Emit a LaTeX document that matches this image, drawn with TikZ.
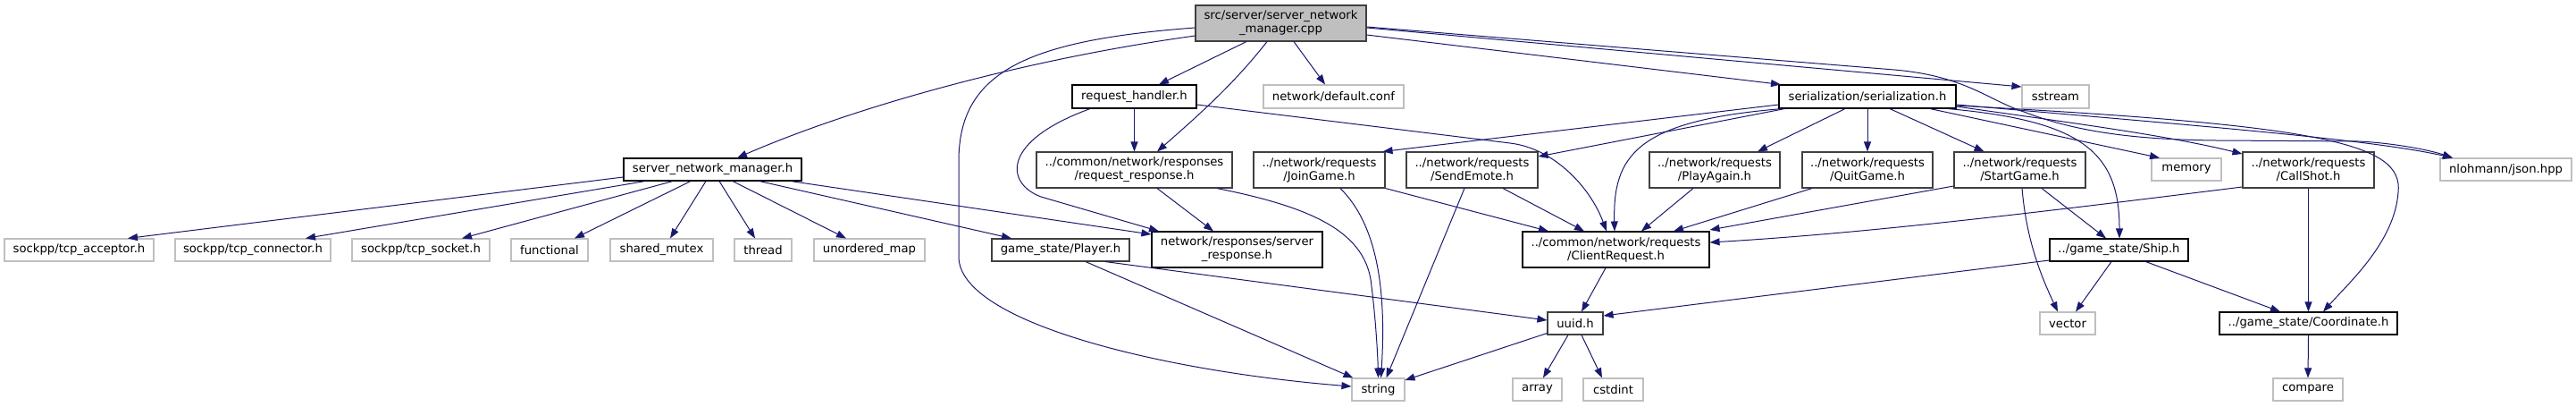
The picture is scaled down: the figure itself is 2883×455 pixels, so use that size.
\documentclass[tikz,border=0pt]{standalone}
\usepackage{fontspec}
\setmainfont{DejaVu Sans}
\usetikzlibrary{arrows.meta}
\definecolor{edgeblue}{HTML}{191970}
\definecolor{grey75}{HTML}{BFBFBF}
\definecolor{grey25}{HTML}{404040}
\begin{document}
\begin{tikzpicture}[x=1pt,y=-1pt,
  box/.style={rectangle, inner sep=0pt, align=center, line width=1.1pt,
    font=\fontsize{13.2}{15}\selectfont, text=black},
  docb/.style={box, draw=black},
  docg/.style={box, draw=grey25},
  ext/.style={box, draw=grey75},
  mainbox/.style={box, draw=grey25, fill=grey75},
  sz/.style 2 args={minimum width=#1pt, minimum height=#2pt},
  edge/.style={draw=edgeblue, line width=1pt, -{Triangle[length=11pt,width=8pt]}}]
\useasboundingbox[fill=white] (0,0) rectangle (2883,455);

% nodes
\node[mainbox, sz={191}{40}] (main) at (1433.5,26) {src/server/server\_network\\\_manager.cpp};
\node[docb, sz={199}{25}] (snm) at (797.5,189.5) {server\_network\_manager.h};
\node[ext, sz={167}{25}] (acc) at (88.5,279.5) {sockpp/tcp\_acceptor.h};
\node[ext, sz={174}{25}] (con) at (283,279.5) {sockpp/tcp\_connector.h};
\node[ext, sz={154}{25}] (sock) at (471,279.5) {sockpp/tcp\_socket.h};
\node[ext, sz={86}{25}] (func) at (615,279.5) {functional};
\node[ext, sz={115}{25}] (smut) at (740.5,279.5) {shared\_mutex};
\node[ext, sz={64}{25}] (thr) at (854,279.5) {thread};
\node[ext, sz={124}{25}] (umap) at (973,279.5) {unordered\_map};
\node[docb, sz={139}{26}] (rh) at (1269.5,108) {request\_handler.h};
\node[docg, sz={219}{40}] (rr) at (1269.5,190) {../common/network/responses\\/request\_response.h};
\node[docg, sz={147}{40}] (join) at (1476.5,190) {../network/requests\\/JoinGame.h};
\node[ext, sz={157}{26}] (conf) at (1492.5,108) {network/default.conf};
\node[docg, sz={154}{25}] (player) at (1187,279.5) {game\_state/Player.h};
\node[docb, sz={191}{40}] (sresp) at (1384.5,279) {network/responses/server\\\_response.h};
\node[docg, sz={147}{40}] (send) at (1647.5,190) {../network/requests\\/SendEmote.h};
\node[docb, sz={209}{40}] (creq) at (1808.5,279) {../common/network/requests\\/ClientRequest.h};
\node[docg, sz={62}{25}] (uuid) at (1763,361.5) {uuid.h};
\node[ext, sz={59}{25}] (string) at (1542.5,435.5) {string};
\node[ext, sz={55}{25}] (array) at (1720.5,435.5) {array};
\node[ext, sz={67}{25}] (cstdint) at (1805.5,435.5) {cstdint};
\node[docg, sz={146}{40}] (play) at (1919,190) {../network/requests\\/PlayAgain.h};
\node[docb, sz={198}{26}] (ser) at (2090,108) {serialization/serialization.h};
\node[ext, sz={75}{26}] (sstream) at (2300.5,108) {sstream};
\node[docg, sz={146}{40}] (quit) at (2090,190) {../network/requests\\/QuitGame.h};
\node[docg, sz={147}{40}] (start) at (2260.5,190) {../network/requests\\/StartGame.h};
\node[docb, sz={155}{25}] (ship) at (2371.5,279.5) {../game\_state/Ship.h};
\node[ext, sz={62}{25}] (vector) at (2314,361.5) {vector};
\node[ext, sz={78}{25}] (memory) at (2447,189.5) {memory};
\node[docg, sz={147}{40}] (call) at (2583.5,190) {../network/requests\\/CallShot.h};
\node[ext, sz={147}{25}] (json) at (2804.5,189.5) {nlohmann/json.hpp};
\node[docb, sz={199}{25}] (coord) at (2583.5,361.5) {../game\_state/Coordinate.h};
\node[ext, sz={78}{25}] (compare) at (2583,435.5) {compare};

% edges from main
\draw[edge] ([yshift=-14pt]main.west) .. controls (1150,66) and (960,118) .. ([xshift=27.5pt]snm.north);
\draw[edge] ([yshift=-5pt]main.west) .. controls (1150,45) and (1073,80) .. (1073,180) -- (1073,287) .. controls (1073,360) and (1300,415) .. ([yshift=3.5pt]string.west);
\draw[edge] ([xshift=-38.5pt]main.south) -- ([xshift=27.5pt]rh.north);
\draw[edge] ([xshift=-15.5pt]main.south) .. controls (1380,95) and (1340,130) .. ([xshift=25.5pt]rr.north);
\draw[edge] ([xshift=14.5pt]main.south) -- ([xshift=-9.5pt]conf.north);
\draw[edge] ([yshift=-13pt]main.east) -- ([xshift=-97pt]ser.north);
\draw[edge] ([yshift=-5pt]main.east) -- ([yshift=11pt]sstream.west);
\draw[edge] ([yshift=-4pt]main.east) -- (2120,78) .. controls (2200,85) and (2225,112) .. (2265,125) .. controls (2330,150) and (2400,156) .. (2480,157) -- (2640,158) .. controls (2680,160) and (2720,168) .. ([xshift=-59.5pt]json.north);

% serialization.h
\draw[edge] ([yshift=-9pt]ser.west) -- ([xshift=-3pt]join.north east);
\draw[edge] ([xshift=7pt]ser.south west) -- ([yshift=15pt]send.east);
\draw[edge] ([xshift=4pt]ser.south west) .. controls (1830,135) and (1805,175) .. ([xshift=-1.5pt]creq.north);
\draw[edge] ([xshift=-25pt]ser.south) -- ([xshift=48pt]play.north);
\draw[edge] (ser.south) -- (quit.north);
\draw[edge] ([xshift=25pt]ser.south) -- ([xshift=-40pt]start.north);
\draw[edge] ([xshift=70pt]ser.south) -- ([xshift=-30pt]memory.north);
\draw[edge] ([yshift=-11pt]ser.east) .. controls (2300,135) and (2420,150) .. ([yshift=18pt]call.west);
\draw[edge] ([yshift=-10pt]ser.east) .. controls (2600,140) and (2690,160) .. (2684,215) .. controls (2680,270) and (2630,315) .. ([xshift=16.5pt]coord.north);
\draw[edge] ([yshift=-9pt]ser.east) .. controls (2450,140) and (2650,155) .. ([xshift=-59.5pt]json.north);
\draw[edge] ([xshift=90pt]ser.south) .. controls (2330,135) and (2372,170) .. ([xshift=0.5pt]ship.north);

% request_handler.h
\draw[edge] (rh.south) -- (rr.north);
\draw[edge] ([xshift=-49.5pt]rh.south) .. controls (1120,158) and (1125,205) .. (1165,220) -- ([xshift=-87.5pt]sresp.north);
\draw[edge] ([yshift=-9pt]rh.east) -- (1690,160) .. controls (1740,166) and (1780,210) .. ([xshift=-10.5pt]creq.north);

% request_response.h
\draw[edge] ([xshift=25.5pt]rr.south) -- ([xshift=-26.5pt]sresp.north);
\draw[edge] ([xshift=92.5pt]rr.south) .. controls (1470,232) and (1530,260) .. (1535,320) .. controls (1540,360) and (1542,400) .. (string.north);

% server_network_manager.h
\draw[edge] ([yshift=-8.5pt]snm.west) -- ([xshift=54.5pt]acc.north);
\draw[edge] ([xshift=-75.5pt]snm.south) -- ([xshift=59pt]con.north);
\draw[edge] ([xshift=-44.5pt]snm.south) -- ([xshift=46pt]sock.north);
\draw[edge] ([xshift=-24.5pt]snm.south) -- ([xshift=28pt]func.north);
\draw[edge] ([xshift=-7.5pt]snm.south) -- ([xshift=9.5pt]smut.north);
\draw[edge] ([xshift=7.5pt]snm.south) -- ([xshift=-9pt]thr.north);
\draw[edge] ([xshift=22.5pt]snm.south) -- ([xshift=-26pt]umap.north);
\draw[edge] ([xshift=52.5pt]snm.south) -- ([xshift=-55pt]player.north);
\draw[edge] ([xshift=87.5pt]snm.south) -- ([yshift=17pt]sresp.west);

% Player.h
\draw[edge] ([xshift=50pt]player.south) -- ([yshift=3.5pt]uuid.west);
\draw[edge] ([xshift=28pt]player.south) -- ([xshift=2pt]string.north west);

% requests
\draw[edge] ([xshift=23.5pt]join.south) .. controls (1540,250) and (1552,320) .. ([xshift=3pt]string.north);
\draw[edge] (join.south east) -- ([xshift=-75.5pt]creq.north);
\draw[edge] ([xshift=-8.5pt]send.south) -- ([xshift=9pt]string.north);
\draw[edge] ([xshift=34.5pt]send.south) -- ([xshift=-35.5pt]creq.north);
\draw[edge] ([xshift=-24pt]play.south) -- ([xshift=28.5pt]creq.north);
\draw[edge] ([xshift=-62pt]quit.south) -- ([xshift=64.5pt]creq.north);
\draw[edge] ([yshift=-18pt]start.west) -- ([yshift=22pt]creq.east);
\draw[edge] ([xshift=24.5pt]start.south) -- ([xshift=-14.5pt]ship.north);
\draw[edge] ([xshift=2.5pt]start.south) .. controls (2268,270) and (2285,310) .. ([xshift=-11pt]vector.north);
\draw[edge] ([yshift=-19pt]call.west) .. controls (2300,235) and (2100,260) .. ([yshift=8pt]creq.east);
\draw[edge] (call.south) -- (coord.north);

% lower
\draw[edge] ([xshift=-11.5pt]creq.south) -- ([xshift=7pt]uuid.north);
\draw[edge] ([yshift=-11.5pt]ship.west) -- ([yshift=8.5pt]uuid.east);
\draw[edge] ([xshift=-8.5pt]ship.south) -- ([xshift=9pt]vector.north);
\draw[edge] ([xshift=30pt]ship.south) -- ([xshift=-31.5pt]coord.north);
\draw[edge] (coord.south) -- (compare.north);
\draw[edge] ([yshift=-11pt]uuid.west) -- ([yshift=10.5pt]string.east);
\draw[edge] ([xshift=-8pt]uuid.south) -- ([xshift=6.5pt]array.north);
\draw[edge] ([xshift=7pt]uuid.south) -- ([xshift=-12.5pt]cstdint.north);
\end{tikzpicture}
\end{document}
